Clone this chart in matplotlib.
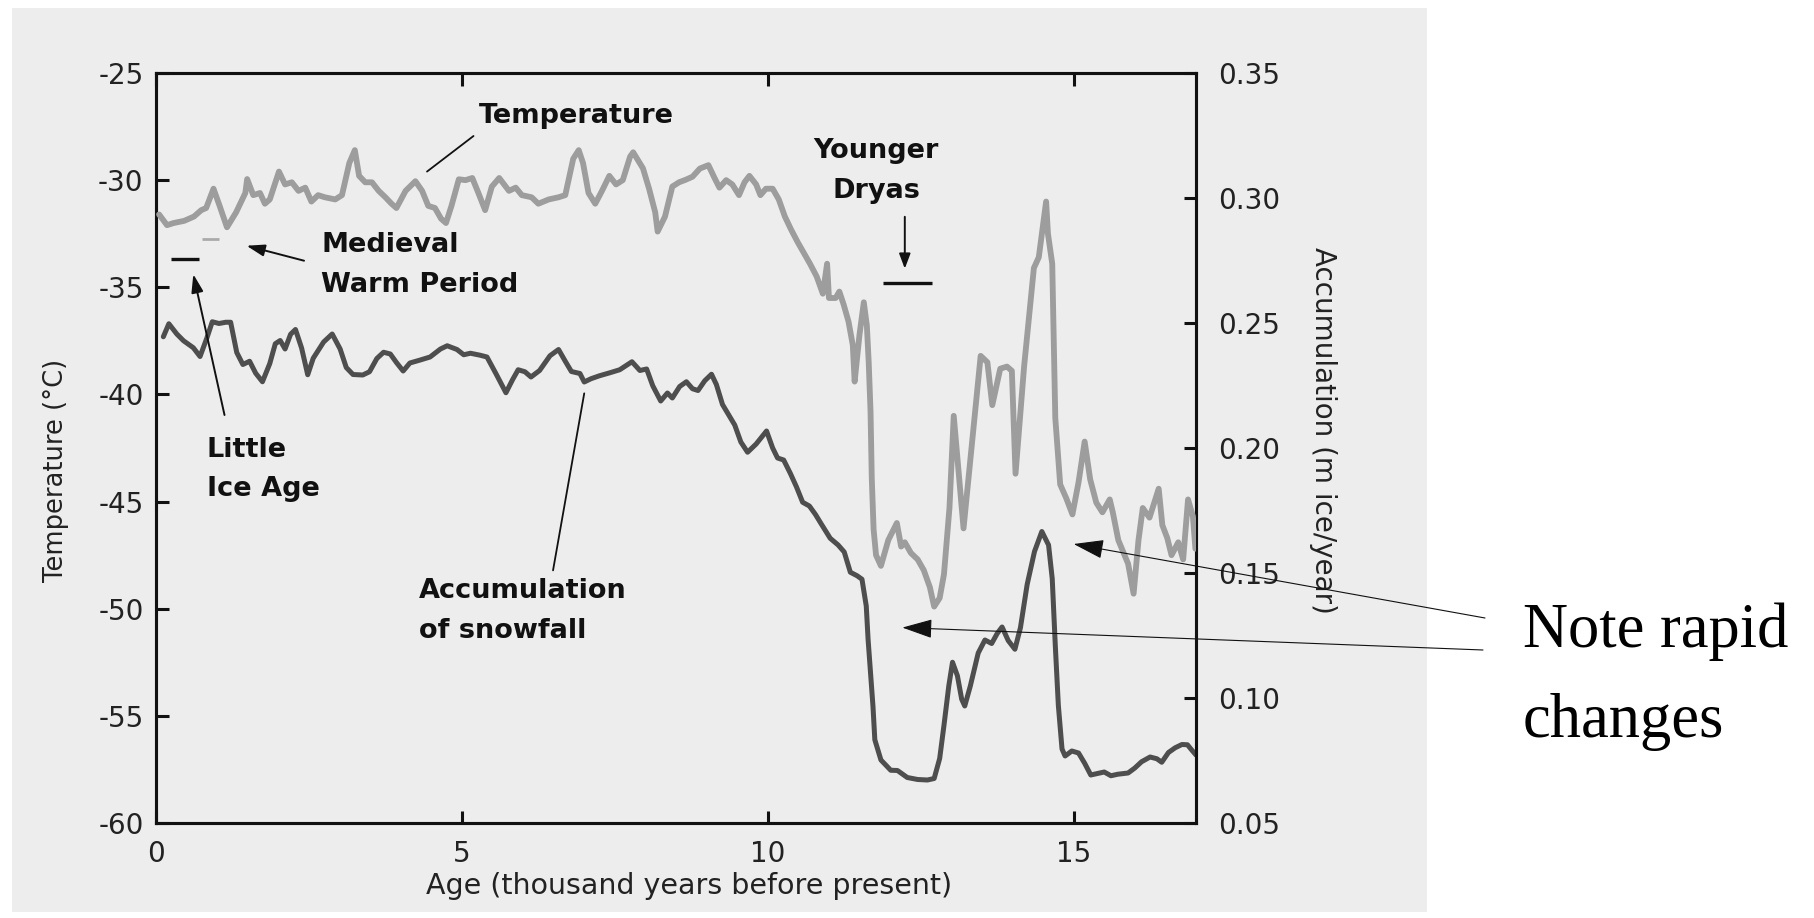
import matplotlib
matplotlib.use("Agg")
import matplotlib.pyplot as plt
from matplotlib.patches import Rectangle

plt.rcParams['font.family'] = ['DejaVu Sans']
plt.rcParams['axes.unicode_minus'] = False

# Ice-core record: age in thousand years before present
temp_age = [0.05, 0.18, 0.29, 0.46, 0.62, 0.74, 0.82, 0.94, 1.04, 1.16, 1.31, 1.46, 1.49,
            1.59, 1.70, 1.78, 1.86, 2.01, 2.11, 2.22, 2.33, 2.44, 2.54, 2.65, 2.76, 2.93,
            3.04, 3.16, 3.25, 3.32, 3.42, 3.53, 3.64, 3.75, 3.85, 3.93, 4.08, 4.24, 4.35,
            4.45, 4.56, 4.66, 4.74, 4.83, 4.95, 5.06, 5.17, 5.27, 5.38, 5.49, 5.61, 5.77,
            5.88, 5.98, 6.14, 6.25, 6.42, 6.58, 6.69, 6.82, 6.91, 6.98, 7.07, 7.18, 7.29,
            7.41, 7.52, 7.63, 7.75, 7.80, 7.96, 8.06, 8.16, 8.20, 8.32, 8.44, 8.55, 8.66,
            8.77, 8.89, 9.03, 9.13, 9.21, 9.32, 9.42, 9.53, 9.62, 9.70, 9.81, 9.88, 9.97,
            10.08, 10.18, 10.28, 10.38, 10.49, 10.59, 10.69, 10.80, 10.90, 10.97, 11.00,
            11.11, 11.17, 11.24, 11.32, 11.39, 11.42, 11.50, 11.57, 11.62, 11.65, 11.68,
            11.70, 11.73, 11.77, 11.85, 11.97, 12.11, 12.18, 12.24, 12.34, 12.45, 12.55,
            12.65, 12.72, 12.81, 12.88, 12.97, 13.04, 13.20, 13.48, 13.59, 13.67, 13.80,
            13.91, 13.99, 14.05, 14.19, 14.35, 14.43, 14.55, 14.58, 14.65, 14.70, 14.78,
            14.88, 14.98, 15.08, 15.18, 15.27, 15.37, 15.47, 15.59, 15.64, 15.73, 15.89,
            15.98, 16.06, 16.13, 16.24, 16.39, 16.45, 16.53, 16.60, 16.71, 16.79, 16.87,
            16.95, 16.99]
temp_c = [-31.6, -32.1, -32.0, -31.9, -31.7, -31.4, -31.3, -30.4, -31.2, -32.2, -31.5, -30.6,
          -29.95, -30.7, -30.6, -31.1, -30.9, -29.6, -30.2, -30.1, -30.5, -30.35, -31.0,
          -30.7, -30.8, -30.9, -30.7, -29.2, -28.6, -29.8, -30.1, -30.1, -30.5, -30.8,
          -31.1, -31.3, -30.5, -30.05, -30.5, -31.2, -31.3, -31.8, -32.0, -31.2, -29.96,
          -30.0, -29.9, -30.6, -31.4, -30.3, -29.9, -30.5, -30.35, -30.7, -30.8, -31.1,
          -30.9, -30.8, -30.7, -29.0, -28.6, -29.2, -30.6, -31.1, -30.5, -29.8, -30.2,
          -30.0, -28.9, -28.7, -29.45, -30.4, -31.5, -32.4, -31.7, -30.3, -30.1, -29.98,
          -29.84, -29.46, -29.3, -29.9, -30.35, -30.0, -30.2, -30.7, -30.1, -29.8, -30.2,
          -30.7, -30.4, -30.4, -30.9, -31.7, -32.3, -32.9, -33.4, -33.9, -34.5, -35.3,
          -33.9, -35.5, -35.5, -35.2, -35.8, -36.6, -37.7, -39.4, -37.2, -35.7, -36.8,
          -38.5, -40.8, -43.9, -46.3, -47.5, -48.0, -46.8, -46.0, -47.1, -46.9, -47.4,
          -47.7, -48.2, -49.0, -49.9, -49.5, -48.4, -45.3, -41.0, -46.25, -38.2, -38.5,
          -40.5, -38.8, -38.7, -38.9, -43.7, -38.7, -34.1, -33.6, -31.0, -32.5, -33.9,
          -41.1, -44.2, -44.85, -45.6, -44.1, -42.2, -43.96, -45.05, -45.5, -44.9, -45.5,
          -46.8, -47.9, -49.3, -46.8, -45.3, -45.75, -44.4, -46.1, -46.7, -47.5, -46.9,
          -47.7, -44.9, -45.7, -47.2]

acc_age = [0.12, 0.21, 0.34, 0.45, 0.61, 0.72, 0.83, 0.92, 1.03, 1.14, 1.22, 1.32, 1.42, 1.53,
           1.63, 1.74, 1.86, 1.95, 2.03, 2.11, 2.20, 2.28, 2.38, 2.48, 2.57, 2.74, 2.88, 3.01,
           3.11, 3.22, 3.38, 3.49, 3.61, 3.72, 3.83, 3.93, 4.04, 4.15, 4.32, 4.48, 4.65, 4.76,
           4.92, 5.03, 5.14, 5.30, 5.41, 5.56, 5.72, 5.83, 5.92, 6.03, 6.13, 6.27, 6.44, 6.58,
           6.69, 6.79, 6.93, 7.00, 7.11, 7.25, 7.42, 7.58, 7.78, 7.91, 8.02, 8.12, 8.25, 8.36,
           8.44, 8.56, 8.67, 8.77, 8.86, 8.97, 9.08, 9.16, 9.26, 9.36, 9.46, 9.56, 9.67, 9.81,
           9.98, 10.08, 10.16, 10.26, 10.37, 10.47, 10.57, 10.68, 10.78, 10.88, 11.02, 11.15,
           11.25, 11.35, 11.46, 11.54, 11.61, 11.64, 11.68, 11.72, 11.75, 11.85, 12.01, 12.12,
           12.28, 12.45, 12.61, 12.72, 12.81, 12.88, 12.96, 13.02, 13.10, 13.17, 13.22, 13.31,
           13.44, 13.55, 13.66, 13.75, 13.83, 13.93, 14.04, 14.13, 14.24, 14.36, 14.48, 14.59,
           14.65, 14.70, 14.75, 14.81, 14.86, 14.97, 15.08, 15.18, 15.28, 15.39, 15.50, 15.61,
           15.72, 15.89, 16.00, 16.11, 16.25, 16.36, 16.44, 16.55, 16.66, 16.77, 16.86, 16.93,
           17.00]
acc_rate = [0.2445, 0.2497, 0.2456, 0.2429, 0.2401, 0.2366, 0.2439, 0.2505, 0.2498, 0.2503,
            0.2503, 0.2382, 0.2334, 0.2347, 0.2299, 0.2265, 0.2338, 0.2417, 0.2430, 0.2396,
            0.2455, 0.2474, 0.2400, 0.2293, 0.2359, 0.2424, 0.2456, 0.2396, 0.2322, 0.2294,
            0.2292, 0.2305, 0.2358, 0.2383, 0.2376, 0.2342, 0.2308, 0.2340, 0.2352, 0.2364,
            0.2396, 0.2409, 0.2394, 0.2373, 0.2379, 0.2371, 0.2364, 0.2296, 0.2221, 0.2274,
            0.2313, 0.2305, 0.2284, 0.2310, 0.2369, 0.2394, 0.2347, 0.2306, 0.2298, 0.2264,
            0.2277, 0.2289, 0.2301, 0.2313, 0.2345, 0.2310, 0.2316, 0.2249, 0.2188, 0.2220,
            0.2200, 0.2246, 0.2265, 0.2237, 0.2230, 0.2269, 0.2295, 0.2254, 0.2174, 0.2133,
            0.2092, 0.2024, 0.1983, 0.2016, 0.2068, 0.2000, 0.1960, 0.1952, 0.1898, 0.1844,
            0.1783, 0.1768, 0.1734, 0.1694, 0.1639, 0.1612, 0.1584, 0.1503, 0.1489, 0.1475,
            0.1368, 0.1234, 0.1100, 0.0966, 0.0833, 0.0752, 0.0711, 0.0710, 0.0682, 0.0674,
            0.0672, 0.0678, 0.0758, 0.0890, 0.1050, 0.1143, 0.1089, 0.0995, 0.0968, 0.1047,
            0.1180, 0.1232, 0.1218, 0.1258, 0.1284, 0.1230, 0.1195, 0.1281, 0.1454, 0.1586,
            0.1666, 0.1612, 0.1477, 0.1210, 0.0970, 0.0796, 0.0768, 0.0788, 0.0780, 0.0739,
            0.0692, 0.0698, 0.0704, 0.0689, 0.0695, 0.0700, 0.0720, 0.0745, 0.0764, 0.0757,
            0.0743, 0.0782, 0.0801, 0.0814, 0.0813, 0.0792, 0.0772]

# Climate episodes (thousand years before present)
lia_years = [0.25, 0.70]
mwp_years = [0.75, 1.03]
yd_years = [11.89, 12.68]

x_ticks = [0, 5, 10, 15]
temp_ticks = [-60, -55, -50, -45, -40, -35, -30, -25]
acc_ticks = [0.05, 0.10, 0.15, 0.20, 0.25, 0.30, 0.35]

W, H = 1814, 918
fig = plt.figure(figsize=(W / 100, H / 100), dpi=100, facecolor='white')

# scanned page backdrop
fig.add_artist(Rectangle((12 / W, 6 / H), (1427 - 12) / W, (910 - 6) / H,
                         transform=fig.transFigure, facecolor='#ededed',
                         edgecolor='none', zorder=0))

ax = fig.add_axes([156 / W, 95 / H, 1040 / W, 750 / H])
ax2 = ax.twinx()
ax.set_zorder(ax2.get_zorder() + 1)
ax.patch.set_visible(False)
ax2.patch.set_visible(False)

ink = '#111111'
label_ink = '#222222'

ax.plot(temp_age, temp_c, color='#9d9d9d', lw=4.2, solid_joinstyle='round',
        solid_capstyle='round', zorder=3)
ax2.plot(acc_age, acc_rate, color='#4e4e4e', lw=3.6, solid_joinstyle='round',
         solid_capstyle='round')

ax.set_xlim(0, 17)
ax.set_ylim(-60, -25)
ax2.set_ylim(0.05, 0.35)
ax.set_xticks(x_ticks)
ax.set_yticks(temp_ticks)
ax2.set_yticks(acc_ticks)
ax2.set_yticklabels([f'{v:.2f}' for v in acc_ticks])

for a in (ax, ax2):
    for s in a.spines.values():
        s.set_linewidth(2.2)
        s.set_color(ink)

ax.tick_params(axis='both', direction='in', length=9, width=2.2, color=ink,
               labelsize=20, labelcolor=label_ink)
ax.tick_params(axis='x', top=True, pad=12)
ax.tick_params(axis='y', pad=9)
ax2.tick_params(axis='y', direction='in', length=9, width=2.2, color=ink,
                labelsize=20, labelcolor=label_ink, pad=16)

ax.set_xlabel('Age (thousand years before present)', fontsize=20.5, color=label_ink)
ax.xaxis.set_label_coords(0.513, -0.066)
ax.set_ylabel('Temperature (°C)', fontsize=18.5, color=label_ink)
ax.yaxis.set_label_coords(-0.0837, 0.47)
ax2.set_ylabel('Accumulation (m ice/year)', fontsize=20, color=label_ink,
               rotation=270, va='bottom')
ax2.yaxis.set_label_coords(1.1087, 0.524)

# episode bars
ax.plot(lia_years, [-33.7, -33.7], color=ink, lw=2.4, solid_capstyle='butt')
ax.plot(mwp_years, [-32.76, -32.76], color='#aaaaaa', lw=2.0, solid_capstyle='butt')
ax.plot(yd_years, [-34.8, -34.8], color=ink, lw=2.4, solid_capstyle='butt')

note_kw = dict(fontsize=19.5, fontweight='bold', color=ink, linespacing=1.68)
ax.text(6.87, -27.02, 'Temperature', ha='center', va='center', **note_kw)
ax.text(2.70, -33.95, 'Medieval\nWarm Period', ha='left', va='center', **note_kw)
ax.text(0.83, -43.5, 'Little\nIce Age', ha='left', va='center', **note_kw)
ax.text(11.77, -29.57, 'Younger\nDryas', ha='center', va='center', **note_kw)
ax.text(4.30, -50.11, 'Accumulation\nof snowfall', ha='left', va='center', **note_kw)


def pointer(tip, tail, head=None, lw=1.4, **kw):
    style = '-' if head is None else f'-|>,head_length={head[0]},head_width={head[1]}'
    ax.annotate('', xy=tip, xytext=tail,
                arrowprops=dict(arrowstyle=style, mutation_scale=1, lw=lw,
                                color=ink, shrinkA=0, shrinkB=0), **kw)


# leader lines for the curve names
pointer((4.43, -29.6), (5.19, -27.94), lw=1.3)
pointer((6.49, -48.21), (7.00, -39.95), lw=1.3)
# arrows to the climate episodes
pointer((1.48, -33.06), (2.42, -33.76), head=(11, 3.6))
pointer((0.61, -34.39), (1.12, -40.96), head=(11, 3.6))
pointer((12.24, -34.13), (12.24, -31.71), head=(9, 3.4))

# call-out on the abrupt transitions (anchored on the baseline of the last line)
fig.text(1523 / W, 1 - 737 / H, 'Note rapid\nchanges', family=['Liberation Serif'],
         fontsize=45, ha='left', va='baseline', linespacing=1.73, color='black')
pointer((15.0, -46.98), (1485 / W, 1 - 618 / H), head=(19, 6), lw=0.8,
        textcoords='figure fraction')
pointer((12.20, -50.88), (1483 / W, 1 - 650 / H), head=(19, 6), lw=0.8,
        textcoords='figure fraction')

fig.savefig('out.png', dpi=100, facecolor=fig.get_facecolor())
